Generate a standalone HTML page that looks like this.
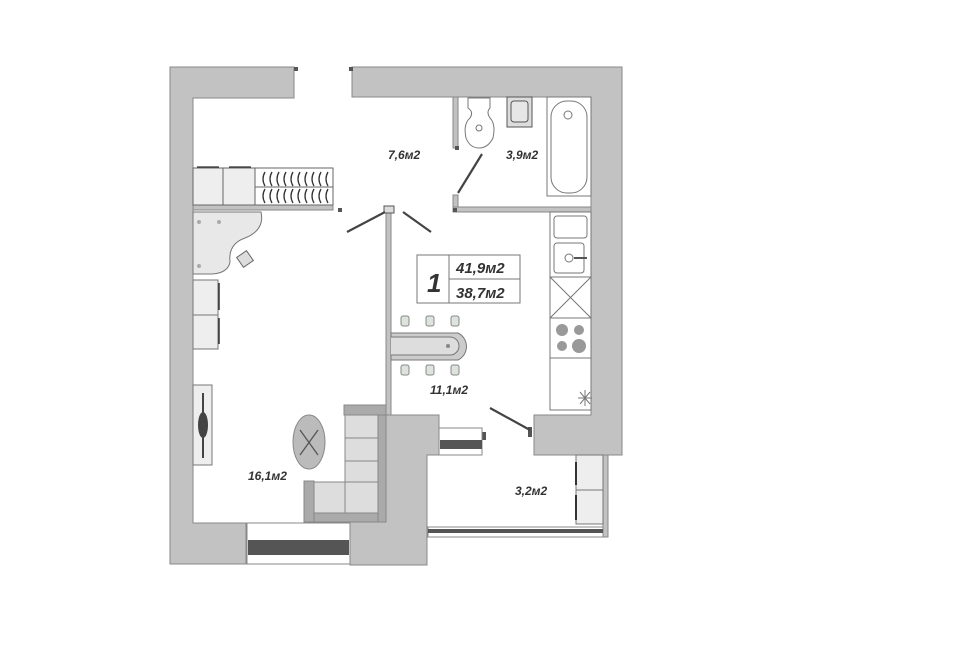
<!DOCTYPE html>
<html><head><meta charset="utf-8"><style>
html,body{margin:0;padding:0;background:#fff;width:960px;height:655px;overflow:hidden}
svg{display:block}
text{font-family:"Liberation Sans",sans-serif;font-style:italic;font-weight:bold;fill:#333}
</style></head><body>
<svg width="960" height="655" viewBox="0 0 960 655">
<g fill="#c2c2c2" stroke="#888" stroke-width="1">
<path d="M170 67 H294 V98 H193 V523 H246 V564 H170 Z"/>
<path d="M352 67 H622 V455 H534 V415 H591 V97 H352 Z"/>
<path d="M386 415 H439 V455 H427 V565 H350 V522 H386 Z"/>
<rect x="453" y="97" width="5" height="51"/>
<rect x="453" y="195" width="5" height="17"/>
<rect x="453" y="207" width="138" height="5"/>
<rect x="193" y="205" width="140" height="5"/>
<rect x="386" y="208" width="5" height="207"/>
<rect x="603" y="455" width="5" height="82"/>
</g>
<g fill="#555"><rect x="294" y="67" width="4" height="4"/><rect x="349" y="67" width="4" height="4"/><rect x="338" y="208" width="4" height="4"/><rect x="455" y="146" width="4" height="4"/><rect x="453" y="208" width="4" height="4"/><rect x="528" y="427" width="4" height="10"/><rect x="482" y="432" width="4" height="8"/></g>
<rect x="384" y="206" width="10" height="7" fill="#ddd" stroke="#555"/>
<g stroke="#444" stroke-width="2.2" fill="none">
<line x1="347" y1="232" x2="385" y2="212"/><line x1="403" y1="212" x2="431" y2="232"/>
<line x1="458" y1="193" x2="482" y2="154"/>
<line x1="490" y1="408" x2="530" y2="430"/>
</g>
<rect x="247" y="523" width="103" height="41" fill="#fff" stroke="#888"/>
<rect x="248" y="540" width="101" height="15" fill="#555"/>
<rect x="439" y="428" width="43" height="27" fill="#fff" stroke="#888"/>
<rect x="440" y="440" width="42" height="9" fill="#555"/>
<rect x="428" y="527" width="175" height="10" fill="#fff" stroke="#888"/>
<rect x="428" y="529" width="175" height="4" fill="#555"/>
<g stroke="#666" fill="#eee">
<rect x="193" y="168" width="30" height="37"/><rect x="223" y="168" width="32" height="37"/>
<rect x="255" y="168" width="78" height="37" fill="#fff"/>
<line x1="255" y1="187" x2="333" y2="187"/>
</g>
<g stroke="#333" stroke-width="1.3" fill="none">
<path d="M265 172 q-4 7 0 14 M272 172 q-4 7 0 14 M279 172 q-4 7 0 14 M286 172 q-4 7 0 14 M293 172 q-4 7 0 14 M300 172 q-4 7 0 14 M307 172 q-4 7 0 14 M314 172 q-4 7 0 14 M321 172 q-4 7 0 14 M328 172 q-4 7 0 14"/>
<path d="M265 189 q-4 7 0 14 M272 189 q-4 7 0 14 M279 189 q-4 7 0 14 M286 189 q-4 7 0 14 M293 189 q-4 7 0 14 M300 189 q-4 7 0 14 M307 189 q-4 7 0 14 M314 189 q-4 7 0 14 M321 189 q-4 7 0 14 M328 189 q-4 7 0 14"/>
<line x1="197" y1="167" x2="219" y2="167"/><line x1="229" y1="167" x2="251" y2="167"/>
</g>
<path d="M193 212 H261 Q265 230 245 238 Q228 244 230 262 Q228 273 212 274 H193 Z" fill="#e8e8e8" stroke="#777"/>
<rect x="239" y="253" width="12" height="12" transform="rotate(-35 245 259)" fill="#ddd" stroke="#666"/>
<g fill="#aaa"><circle cx="199" cy="222" r="2"/><circle cx="219" cy="222" r="2"/><circle cx="199" cy="266" r="2"/></g>
<g stroke="#777" fill="#eee"><rect x="193" y="280" width="25" height="35"/><rect x="193" y="315" width="25" height="34"/></g>
<line x1="219" y1="283" x2="219" y2="310" stroke="#333" stroke-width="1.5"/><line x1="219" y1="318" x2="219" y2="344" stroke="#333" stroke-width="1.5"/>
<rect x="193" y="385" width="19" height="80" fill="#eee" stroke="#777"/>
<line x1="203" y1="393" x2="203" y2="458" stroke="#444" stroke-width="2"/>
<ellipse cx="203" cy="425" rx="5" ry="13" fill="#444"/>
<ellipse cx="309" cy="442" rx="16" ry="27" fill="#bbb" stroke="#888"/>
<path d="M300 430 L318 455 M318 430 L300 455" stroke="#555" stroke-width="1.3"/>
<g stroke="#888">
<rect x="344" y="405" width="42" height="10" fill="#aaa"/>
<rect x="378" y="415" width="8" height="107" fill="#aaa"/>
<rect x="304" y="481" width="10" height="41" fill="#aaa"/>
<rect x="314" y="513" width="64" height="9" fill="#aaa"/>
<rect x="345" y="415" width="33" height="23" fill="#ddd"/><rect x="345" y="438" width="33" height="23" fill="#ddd"/>
<rect x="345" y="461" width="33" height="21" fill="#ddd"/><rect x="345" y="482" width="33" height="31" fill="#ddd"/>
<rect x="314" y="482" width="31" height="31" fill="#ddd"/>
</g>
<path d="M468 98 H490 V108 Q486 112 490 118 Q496 124 493 138 Q488 148 479 148 Q470 148 466 138 Q463 124 470 118 Q474 112 468 108 Z" fill="#fff" stroke="#777"/>
<circle cx="479" cy="128" r="3" fill="none" stroke="#777"/>
<rect x="507" y="97" width="25" height="30" fill="#ddd" stroke="#555"/>
<rect x="511" y="101" width="17" height="21" rx="3" fill="#e6e6e6" stroke="#555"/>
<rect x="547" y="97" width="44" height="99" fill="#fff" stroke="#777"/>
<rect x="551" y="101" width="36" height="92" rx="16" fill="#fff" stroke="#777"/>
<circle cx="568" cy="115" r="4" fill="none" stroke="#777"/>
<g stroke="#777" fill="#fff">
<rect x="550" y="212" width="41" height="198"/>
<rect x="554" y="216" width="33" height="22" rx="3"/>
<rect x="554" y="243" width="30" height="30" rx="3"/>
<rect x="550" y="277" width="41" height="41"/>
<path d="M550 277 L591 318 M591 277 L550 318"/>
<rect x="550" y="318" width="41" height="40"/>
<rect x="550" y="358" width="41" height="52"/>
</g>
<circle cx="569" cy="258" r="4" fill="none" stroke="#777"/><line x1="574" y1="258" x2="587" y2="258" stroke="#555" stroke-width="2"/>
<g fill="#999"><circle cx="562" cy="330" r="6"/><circle cx="579" cy="330" r="5"/><circle cx="562" cy="346" r="5"/><circle cx="579" cy="346" r="7"/></g>
<path d="M580 392 L590 404 M590 392 L580 404 M578 398 H592 M585 390 V406" stroke="#777"/>
<path d="M391 333 H458 A15 15 0 0 1 458 360 H391 Z" fill="#ccc" stroke="#777"/>
<path d="M391 337 H450 A9 9 0 0 1 450 355 H391" fill="#ddd" stroke="#777"/>
<circle cx="448" cy="346" r="2" fill="#888"/>
<g fill="#dde4dd" stroke="#888"><rect x="401" y="316" width="8" height="10" rx="2"/><rect x="426" y="316" width="8" height="10" rx="2"/><rect x="451" y="316" width="8" height="10" rx="2"/><rect x="401" y="365" width="8" height="10" rx="2"/><rect x="426" y="365" width="8" height="10" rx="2"/><rect x="451" y="365" width="8" height="10" rx="2"/></g>
<g stroke="#777" fill="#eee"><rect x="576" y="455" width="27" height="35"/><rect x="576" y="490" width="27" height="34"/></g>
<line x1="576" y1="462" x2="576" y2="485" stroke="#333" stroke-width="2"/><line x1="576" y1="495" x2="576" y2="520" stroke="#333" stroke-width="2"/>
<rect x="417" y="255" width="103" height="48" fill="#fff" stroke="#777"/>
<line x1="449" y1="255" x2="449" y2="303" stroke="#777"/><line x1="449" y1="279" x2="520" y2="279" stroke="#777"/>
<text x="427" y="292" font-size="26">1</text>
<text x="456" y="273" font-size="15">41,9м2</text>
<text x="456" y="298" font-size="15">38,7м2</text>
<text x="388" y="159" font-size="12">7,6м2</text>
<text x="506" y="159" font-size="12">3,9м2</text>
<text x="430" y="394" font-size="12">11,1м2</text>
<text x="248" y="480" font-size="12">16,1м2</text>
<text x="515" y="495" font-size="12">3,2м2</text>
</svg>
</body></html>
